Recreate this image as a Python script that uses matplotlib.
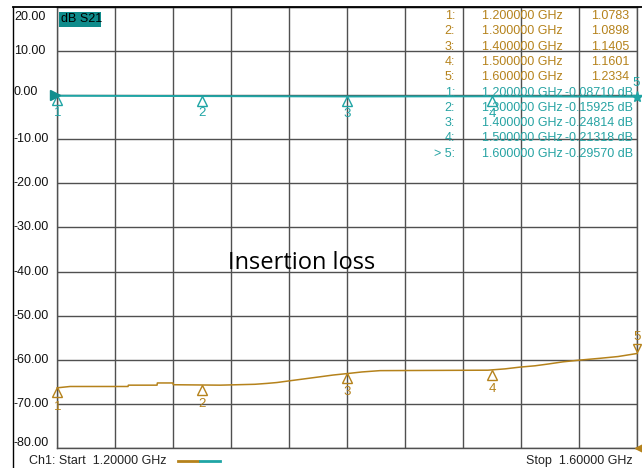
import numpy as np
import matplotlib
matplotlib.use("Agg")
import matplotlib.pyplot as plt
import matplotlib.transforms as mtransforms
from matplotlib.lines import Line2D
from matplotlib.patches import Rectangle

# ---------------- data ----------------
freq_start, freq_stop = 1.2, 1.6
y_ticks = [20, 10, 0, -10, -20, -30, -40, -50, -60, -70, -80]
y_tick_labels = ["20.00", "10.00", "0.00", "-10.00", "-20.00", "-30.00",
                 "-40.00", "-50.00", "-60.00", "-70.00", "-80.00"]

# brown trace (display units)
brown_f = [1.2000, 1.2088, 1.2488, 1.2490, 1.2688, 1.2690, 1.2798, 1.2800,
           1.3122, 1.3363, 1.3446, 1.3515, 1.3605, 1.3674, 1.3743, 1.3812,
           1.3902, 1.4019, 1.4101, 1.4226, 1.4970, 1.5088, 1.5191, 1.5295,
           1.5385, 1.5488, 1.5606, 1.5743, 1.5867, 1.6000]
brown_db = [-66.4, -66.1, -66.1, -65.8, -65.8, -65.3, -65.3, -65.7,
            -65.8, -65.6, -65.4, -65.2, -64.8, -64.5, -64.2, -63.9,
            -63.5, -63.1, -62.8, -62.5, -62.4, -62.1, -61.7, -61.4,
            -61.0, -60.5, -60.1, -59.7, -59.3, -58.6]

# cyan trace: S21 dB
cyan_f = [1.2, 1.3, 1.4, 1.5, 1.6]
cyan_db = [-0.08710, -0.15925, -0.24814, -0.21318, -0.29570]

# markers
marker_ids = ["1", "2", "3", "4", "5"]
marker_f = [1.2, 1.3, 1.4, 1.5, 1.6]
brown_marker_db = [-66.4, -65.8, -63.1, -62.4, -58.6]
brown_marker_vals = ["1.0783", "1.0898", "1.1405", "1.1601", "1.2334"]
cyan_marker_vals = ["-0.08710 dB", "-0.15925 dB", "-0.24814 dB",
                    "-0.21318 dB", "-0.29570 dB"]
marker_freq_text = ["1.200000 GHz", "1.300000 GHz", "1.400000 GHz",
                    "1.500000 GHz", "1.600000 GHz"]

# ---------------- style ----------------
W, H = 642, 468
BROWN = "#B5821B"
CYAN = "#1FA5A5"
CYAN_TXT = "#26A3A3"
GRID = "#505050"
FONT = "Liberation Sans"
FS = 8.5

fig = plt.figure(figsize=(W / 100, H / 100), dpi=100)
fig.patch.set_facecolor("white")

def fx(px):
    return px / W

def fy(py):
    return 1 - py / H

ax_l, ax_r, ax_t, ax_b = 57.3, 637.3, 7.3, 447.7
ax = fig.add_axes([fx(ax_l), fy(ax_b), (ax_r - ax_l) / W, (ax_b - ax_t) / H])
ax.set_xlim(freq_start, freq_stop)
ax.set_ylim(-80, 20)
ax.set_xticks(np.linspace(freq_start, freq_stop, 11))
ax.set_yticks(y_ticks)
ax.grid(True, color=GRID, lw=1.0)
ax.set_axisbelow(True)
ax.tick_params(length=0, labelbottom=False, labelleft=False)
for s in ax.spines.values():
    s.set_color(GRID)
    s.set_linewidth(1.0)

# traces
ax.plot(brown_f, brown_db, color=BROWN, lw=1.1, zorder=3, clip_on=False)
ax.plot(cyan_f, cyan_db, color=CYAN, lw=1.4, zorder=3, clip_on=False)

# markers (triangles below trace with numbers below)
for i, (mid, f) in enumerate(zip(marker_ids, marker_f)):
    if i < 4:
        ax.plot([f], [brown_marker_db[i]], marker="^", ms=6.5, mfc="none",
                mec=BROWN, mew=1.0, ls="none", zorder=4, clip_on=False,
                transform=ax.transData + mtransforms.ScaledTranslation(0, -4.5 / 100, fig.dpi_scale_trans))
        ax.annotate(mid, (f, brown_marker_db[i]), xytext=(0, -13.5),
                    textcoords="offset points", ha="center", va="center",
                    color=BROWN, fontsize=FS + 1, family=FONT, annotation_clip=False)
        ax.plot([f], [cyan_db[i]], marker="^", ms=6.5, mfc="none",
                mec=CYAN, mew=1.0, ls="none", zorder=4, clip_on=False,
                transform=ax.transData + mtransforms.ScaledTranslation(0, -4.5 / 100, fig.dpi_scale_trans))
        ax.annotate(mid, (f, cyan_db[i]), xytext=(0, -12.5),
                    textcoords="offset points", ha="center", va="center",
                    color=CYAN, fontsize=FS + 1, family=FONT, annotation_clip=False)
    else:
        ax.plot([f], [brown_marker_db[i]], marker="v", ms=6, mfc="none",
                mec=BROWN, mew=1.0, ls="none", zorder=4, clip_on=False,
                transform=ax.transData + mtransforms.ScaledTranslation(0, 5.5 / 100, fig.dpi_scale_trans))
        ax.annotate(mid, (f, brown_marker_db[i]), xytext=(0, 12),
                    textcoords="offset points", ha="center", va="center",
                    color=BROWN, fontsize=FS + 1, family=FONT, annotation_clip=False)
        ax.plot([f], [cyan_db[i]], marker="*", ms=8, mfc=CYAN,
                mec=CYAN, ls="none", zorder=4, clip_on=False)
        ax.annotate(mid, (f, cyan_db[i]), xytext=(-1, 10),
                    textcoords="offset points", ha="center", va="center",
                    color=CYAN, fontsize=FS + 1, family=FONT, annotation_clip=False)

# reference arrows
ax.plot([freq_start], [0], marker=">", ms=7, color="#128E8E", ls="none",
        clip_on=False, zorder=5,
        transform=ax.transData + mtransforms.ScaledTranslation(-2.5 / 100, 0.5 / 100, fig.dpi_scale_trans))
ax.plot([freq_stop], [-80], marker="<", ms=7, color=BROWN, ls="none",
        clip_on=False, zorder=5,
        transform=ax.transData + mtransforms.ScaledTranslation(3 / 100, 0, fig.dpi_scale_trans))

# y labels
lbl_trans = mtransforms.blended_transform_factory(fig.transFigure, ax.transData)
label_shift_px = {20: -9.4, 0: 3.7, -80: 4.5}
for v, lab in zip(y_ticks, y_tick_labels):
    dy = label_shift_px.get(v, 0) / 100
    t = lbl_trans + mtransforms.ScaledTranslation(0, dy, fig.dpi_scale_trans)
    fig.text(fx(14), v, lab, transform=t, ha="left", va="center",
             fontsize=FS + 0.5, family=FONT, color="#111111")

# frame lines
fig.add_artist(Line2D([fx(13), 1], [fy(6.5), fy(6.5)], color="black", lw=1.3,
                      transform=fig.transFigure))
fig.add_artist(Line2D([fx(13.3), fx(13.3)], [0, fy(6.5)], color="black", lw=1.0,
                      transform=fig.transFigure))

# dB S21 tag
fig.add_artist(Rectangle((fx(59.3), fy(26.7)), (100.7 - 59.3) / W, (26.7 - 12) / H,
                         transform=fig.transFigure, facecolor="#0F8B8B",
                         edgecolor="none", zorder=5))
fig.text(fx(61), fy(19.3), "dB S21", ha="left", va="center", fontsize=FS + 0.5,
         family=FONT, color="black", zorder=6)

# marker table
row0, dr = 16.0, 15.3
for i in range(5):
    y = fy(row0 + i * dr)
    fig.text(fx(455), y, marker_ids[i] + ":", ha="right", va="center",
             fontsize=FS + 0.5, family=FONT, color=BROWN)
    fig.text(fx(482), y, marker_freq_text[i], ha="left", va="center",
             fontsize=FS + 0.5, family=FONT, color=BROWN)
    fig.text(fx(629), y, brown_marker_vals[i], ha="right", va="center",
             fontsize=FS + 0.5, family=FONT, color=BROWN)
for i in range(5):
    y = fy(row0 + (i + 5) * dr)
    idx = ("> " if i == 4 else "") + marker_ids[i] + ":"
    fig.text(fx(455), y, idx, ha="right", va="center",
             fontsize=FS + 0.5, family=FONT, color=CYAN_TXT)
    fig.text(fx(482), y, marker_freq_text[i], ha="left", va="center",
             fontsize=FS + 0.5, family=FONT, color=CYAN_TXT)
    fig.text(fx(633), y, cyan_marker_vals[i], ha="right", va="center",
             fontsize=FS + 0.5, family=FONT, color=CYAN_TXT)

# annotation
ax.text(0.4219, 0.4194, "Insertion loss", transform=ax.transAxes,
        ha="center", va="center", fontsize=17, family="Open Sans", color="black")

# footer
fig.text(fx(29), fy(461), "Ch1: Start  1.20000 GHz", ha="left", va="center",
         fontsize=FS + 0.5, family=FONT, color="#222222")
fig.text(fx(633), fy(461), "Stop  1.60000 GHz", ha="right", va="center",
         fontsize=FS + 0.5, family=FONT, color="#222222")
fig.add_artist(Line2D([fx(178), fx(198)], [fy(461), fy(461)], color=BROWN, lw=2,
                      transform=fig.transFigure))
fig.add_artist(Line2D([fx(200), fx(220)], [fy(461), fy(461)], color=CYAN, lw=2,
                      transform=fig.transFigure))

fig.savefig("out.png", dpi=100)
